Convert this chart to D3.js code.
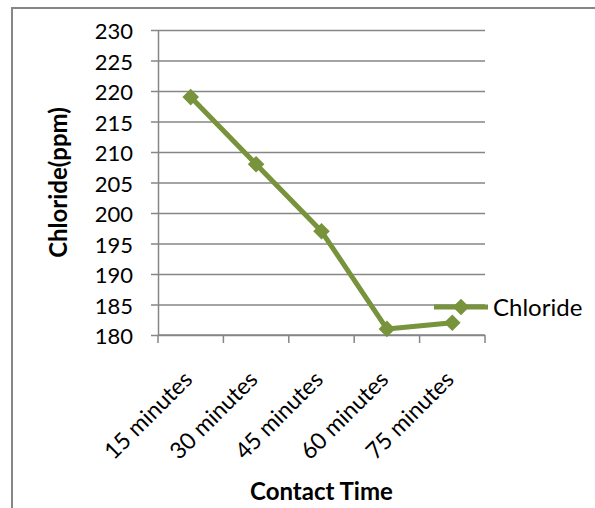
<!DOCTYPE html>
<html>
<head>
<meta charset="utf-8">
<script src="https://cdn.jsdelivr.net/npm/d3@7"></script>
<style>
  body { margin: 0; background: #fff; }
  text { font-family: Lato, "Liberation Sans", sans-serif; fill: #000; }
</style>
</head>
<body>
<div id="chart"></div>
<script>
// data
var categories = ["15 minutes", "30 minutes", "45 minutes", "60 minutes", "75  minutes"];
var chloride = [219, 208, 197, 181, 182];
var yTicks = [180, 185, 190, 195, 200, 205, 210, 215, 220, 225, 230];
var seriesName = "Chloride";

var W = 595, H = 508;
var margin = {top: 30, left: 158, right: 110, bottom: 173};
var width = W - margin.left - margin.right,   // 327
    height = H - margin.top - margin.bottom;  // 305
var green = "#77933C", grid = "#868686";

var svg = d3.select("#chart").append("svg")
    .attr("width", W).attr("height", H);

// outer chart border (right / bottom edges run off the picture)
svg.append("rect")
    .attr("x", 12).attr("y", 8)
    .attr("width", W + 20).attr("height", H + 20)
    .attr("fill", "none").attr("stroke", grid).attr("stroke-width", 2);

var g = svg.append("g")
    .attr("transform", "translate(" + margin.left + "," + margin.top + ")");

var x = d3.scaleBand().domain(categories).range([0, width]);
var y = d3.scaleLinear().domain([180, 230]).range([height, 0]);

// horizontal gridlines + left ticks
var yAxis = g.append("g")
    .call(d3.axisLeft(y).tickValues(yTicks).tickSize(-width).tickSizeOuter(0).tickPadding(25));
yAxis.select(".domain").attr("stroke", grid).attr("stroke-width", 1.5);
yAxis.selectAll(".tick line")
    .attr("x1", -7).attr("stroke", grid).attr("stroke-width", 1.5);
yAxis.selectAll(".tick text")
    .style("font-size", "22px").attr("dy", "0.4em");

// x axis with ticks at category boundaries
var xAxis = g.append("g").attr("transform", "translate(0," + height + ")");
xAxis.append("line")
    .attr("x1", 0).attr("x2", width)
    .attr("stroke", grid).attr("stroke-width", 1.5);
var bounds = categories.map(function(c) { return x(c); }).concat([width]);
xAxis.selectAll(".xtick").data(bounds).enter().append("line")
    .attr("x1", function(d) { return d; }).attr("x2", function(d) { return d; })
    .attr("y1", 0).attr("y2", 8)
    .attr("stroke", grid).attr("stroke-width", 1.5);
xAxis.selectAll(".xlab").data(categories).enter().append("text")
    .attr("transform", function(d) {
      return "translate(" + (x(d) + x.bandwidth() / 2 + 3) + ",46) rotate(-45)";
    })
    .attr("text-anchor", "end")
    .style("font-size", "23px")
    .text(function(d) { return d; });

// series line and diamond markers
var line = d3.line()
    .x(function(d, i) { return x(categories[i]) + x.bandwidth() / 2; })
    .y(function(d) { return y(d); });

g.append("path")
    .datum(chloride)
    .attr("fill", "none")
    .attr("stroke", green)
    .attr("stroke-width", 5)
    .attr("stroke-linejoin", "round")
    .attr("d", line);

var diamond = d3.symbol().type(d3.symbolDiamond2).size(175);
g.selectAll(".pt").data(chloride).enter().append("path")
    .attr("transform", function(d, i) {
      return "translate(" + (x(categories[i]) + x.bandwidth() / 2) + "," + y(d) + ")";
    })
    .attr("d", diamond)
    .attr("fill", green);

// legend
var lg = svg.append("g").attr("transform", "translate(434,307)");
lg.append("line").attr("x1", 0).attr("x2", 54)
    .attr("stroke", green).attr("stroke-width", 5);
lg.append("path").attr("transform", "translate(27,0)")
    .attr("d", diamond).attr("fill", green);
lg.append("text").attr("x", 59).attr("dy", "0.36em")
    .style("font-size", "24px").text(seriesName);

// axis titles
svg.append("text")
    .attr("transform", "translate(67," + (margin.top + height / 2) + ") rotate(-90)")
    .attr("text-anchor", "middle")
    .style("font-size", "24px").style("font-weight", "bold")
    .text("Chloride(ppm)");

svg.append("text")
    .attr("x", margin.left + width / 2).attr("y", 500)
    .attr("text-anchor", "middle")
    .style("font-size", "24px").style("font-weight", "bold")
    .text("Contact Time");
</script>
</body>
</html>
